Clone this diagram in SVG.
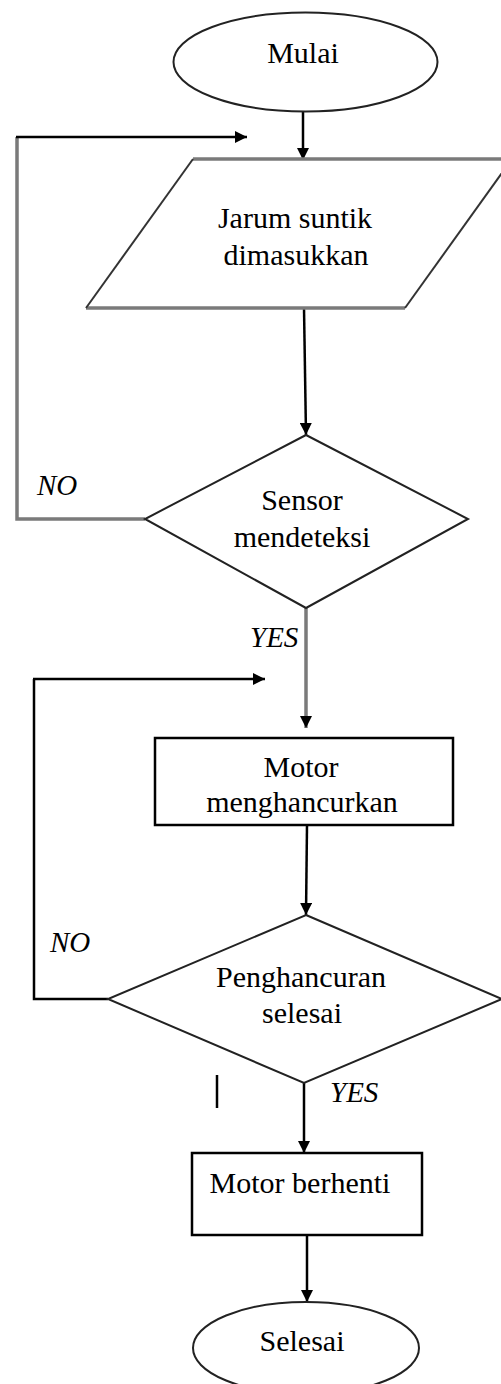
<svg xmlns="http://www.w3.org/2000/svg" width="501" height="1384" viewBox="0 0 501 1384">
<defs>
<marker id="ah" viewBox="0 0 12 12" refX="12" refY="6" markerWidth="12" markerHeight="12" markerUnits="userSpaceOnUse" orient="auto">
<path d="M0,0 L12,6 L0,12 Z" fill="#000"/>
</marker>
<style>
.t{font-family:"Liberation Serif","Times New Roman",serif;font-size:30px;fill:#000;text-anchor:middle}
.l{font-family:"Liberation Serif","Times New Roman",serif;font-size:29px;font-style:italic;fill:#000}
.s{fill:#fff;stroke:#222;stroke-width:2}
.c{fill:none;stroke:#000;stroke-width:2.5}
.g{fill:none;stroke:#7a7a7a;stroke-width:3.5}
</style>
</defs>
<rect width="501" height="1384" fill="#fff"/>
<g id="connectors">
<line class="c" x1="303" y1="112" x2="303" y2="160" marker-end="url(#ah)"/>
<polyline class="g" points="145,519 17,519 17,137"/>
<line class="c" x1="16" y1="137" x2="247" y2="137" stroke-width="3" marker-end="url(#ah)"/>
<line class="c" x1="304" y1="308" x2="306" y2="435" stroke="#555" stroke-width="3" marker-end="url(#ah)"/>
<line class="g" x1="306" y1="608" x2="306" y2="728" stroke="#8a8a8a" marker-end="url(#ah)"/>
<polyline class="c" points="108,999 34,999 34,679"/>
<line class="c" x1="33" y1="679" x2="265" y2="679" marker-end="url(#ah)"/>
<line class="c" x1="307" y1="825" x2="306" y2="915" marker-end="url(#ah)"/>
<line class="c" x1="304" y1="1083" x2="304" y2="1153" marker-end="url(#ah)"/>
<line class="c" x1="307" y1="1235" x2="307" y2="1302" marker-end="url(#ah)"/>
<line x1="217" y1="1075" x2="217" y2="1108" stroke="#000" stroke-width="2.5"/>
</g>
<g id="start">
<ellipse class="s" cx="305.5" cy="62" rx="132" ry="49.5"/>
<text class="t" x="303" y="63">Mulai</text>
</g>
<g id="input">
<polygon points="193,159 512,159 405,308 86,308" fill="#fff" stroke="none"/>
<line x1="193" y1="159" x2="512" y2="159" stroke="#7a7a7a" stroke-width="3.5"/>
<line x1="86" y1="308" x2="405" y2="308" stroke="#7a7a7a" stroke-width="3.5"/>
<line x1="193" y1="159" x2="86" y2="308" stroke="#333" stroke-width="2"/>
<line x1="512" y1="159" x2="405" y2="308" stroke="#333" stroke-width="2"/>
<text class="t" x="295" y="228">Jarum suntik</text>
<text class="t" x="296" y="265">dimasukkan</text>
</g>
<g id="decision1">
<polygon class="s" points="306,435 468,519 306,608 145,519"/>
<text class="t" x="302" y="510">Sensor</text>
<text class="t" x="302" y="547">mendeteksi</text>
<text class="l" x="37" y="495">NO</text>
<text class="l" x="250" y="647">YES</text>
</g>
<g id="process1">
<rect x="155" y="738" width="298" height="87" fill="#fff" stroke="#000" stroke-width="2.5"/>
<text class="t" x="301" y="777">Motor</text>
<text class="t" x="302" y="812">menghancurkan</text>
</g>
<g id="decision2">
<polygon class="s" points="306,915 502,999 304,1083 108,999"/>
<text class="t" x="301" y="987">Penghancuran</text>
<text class="t" x="302" y="1023">selesai</text>
<text class="l" x="50" y="952">NO</text>
<text class="l" x="330" y="1102">YES</text>
</g>
<g id="process2">
<rect x="192" y="1153" width="230" height="82" fill="#fff" stroke="#000" stroke-width="2.5"/>
<text class="t" x="300" y="1193">Motor berhenti</text>
</g>
<g id="end">
<ellipse class="s" cx="306" cy="1348" rx="113" ry="46"/>
<text class="t" x="302" y="1351">Selesai</text>
</g>
</svg>
